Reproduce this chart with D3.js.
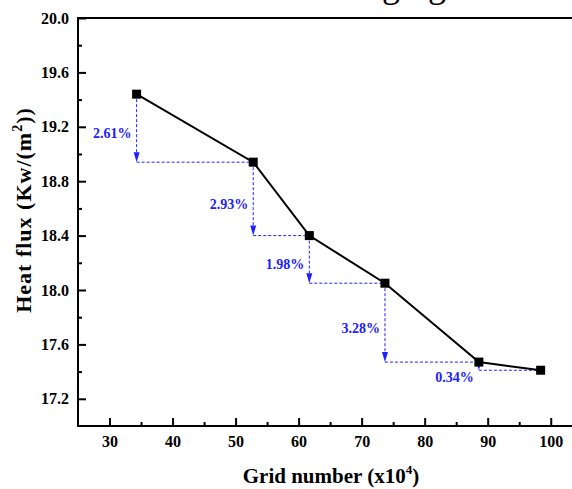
<!DOCTYPE html>
<html>
<head>
<meta charset="utf-8">
<script src="https://cdn.jsdelivr.net/npm/d3@7"></script>
<style>
  body { margin: 0; background: #fff; overflow: hidden; }
  svg { display: block; font-family: "Liberation Serif", "Times New Roman", serif; }
</style>
</head>
<body>
<svg id="chart" width="572" height="489"></svg>
<script>
/*
  heat flux vs grid number, grid independence plot
*/

// data
var gridNumber = [34.3, 52.8, 61.7, 73.7, 88.6, 98.4];
var heatFlux = [19.44, 18.94, 18.40, 18.05, 17.47, 17.41];
var changeLabels = ["2.61%", "2.93%", "1.98%", "3.28%", "0.34%"];
var xTicks = [30, 40, 50, 60, 70, 80, 90, 100];
var yTicks = [17.2, 17.6, 18.0, 18.4, 18.8, 19.2, 19.6, 20.0];

var svg = d3.select("#chart");
var plotLeft = 78, plotTop = 18, plotBottom = 426;

var x = d3.scaleLinear().domain([25, 105]).range([plotLeft, plotLeft + 80 * 6.303]);
var y = d3.scaleLinear().domain([17.0, 20.0]).range([plotBottom, plotTop]);
var plotRight = x(105);

var blue = "#2020ff";

// title, mostly cut off by the top of the picture
svg.append("text")
  .attr("x", 446).attr("y", -3)
  .attr("text-anchor", "end")
  .style("font-size", "36px")
  .text("Heat flux changing");

// minor ticks
var minorX = d3.range(35, 105, 10);
var minorY = d3.range(17.4, 20, 0.4);

svg.append("g")
  .attr("transform", "translate(0," + plotBottom + ")")
  .call(d3.axisBottom(x).tickValues(minorX).tickSize(-4).tickFormat(""))
  .call(function(g){ g.select(".domain").remove(); })
  .selectAll("line").attr("stroke-width", 2);

svg.append("g")
  .attr("transform", "translate(" + plotLeft + ",0)")
  .call(d3.axisLeft(y).tickValues(minorY).tickSize(-4).tickFormat(""))
  .call(function(g){ g.select(".domain").remove(); })
  .selectAll("line").attr("stroke-width", 2);

// major ticks + labels
var xAxis = svg.append("g")
  .attr("transform", "translate(0," + plotBottom + ")")
  .call(d3.axisBottom(x).tickValues(xTicks).tickSize(-8).tickPadding(10).tickFormat(d3.format("d")));
xAxis.select(".domain").remove();
xAxis.selectAll("line").attr("stroke-width", 2);
xAxis.selectAll("text")
  .attr("fill", "#000")
  .attr("font-family", "Liberation Serif")
  .attr("font-size", 16)
  .attr("font-weight", "bold");

var yAxis = svg.append("g")
  .attr("transform", "translate(" + plotLeft + ",0)")
  .call(d3.axisLeft(y).tickValues(yTicks).tickSize(-8).tickPadding(9).tickFormat(d3.format(".1f")));
yAxis.select(".domain").remove();
yAxis.selectAll("line").attr("stroke-width", 2);
yAxis.selectAll("text")
  .attr("fill", "#000")
  .attr("font-family", "Liberation Serif")
  .attr("font-size", 16)
  .attr("font-weight", "bold");

// frame
svg.append("rect")
  .attr("x", plotLeft).attr("y", plotTop)
  .attr("width", plotRight - plotLeft).attr("height", plotBottom - plotTop)
  .attr("fill", "none")
  .attr("stroke", "#000")
  .attr("stroke-width", 2);

// blue dashed drop arrows between neighbouring points
var pts = gridNumber.map(function(g, i){ return {x: g, y: heatFlux[i]}; });

for (var i = 0; i < pts.length - 1; i++) {
  var a = pts[i], b = pts[i + 1];
  var xa = x(a.x), ya = y(a.y), xb = x(b.x), yb = y(b.y);

  // horizontal line at the next point's level
  svg.append("line")
    .attr("x1", xa).attr("x2", xb)
    .attr("y1", yb).attr("y2", yb)
    .attr("stroke", blue).attr("stroke-width", 1)
    .attr("stroke-dasharray", "3,2");

  // vertical drop
  svg.append("line")
    .attr("x1", xa).attr("x2", xa)
    .attr("y1", ya + 5).attr("y2", yb - 6)
    .attr("stroke", blue).attr("stroke-width", 1)
    .attr("stroke-dasharray", "3,2");

  // arrow head
  svg.append("path")
    .attr("d", "M" + (xa - 3) + "," + (yb - 10) + "L" + (xa + 3) + "," + (yb - 10) + "L" + xa + "," + yb + "Z")
    .attr("fill", blue);

  // percentage label
  var last = (i == pts.length - 2);
  svg.append("text")
    .attr("x", xa - 5)
    .attr("y", last ? yb + 12 : (ya + yb) / 2 + 10)
    .attr("text-anchor", "end")
    .attr("fill", blue)
    .style("font-size", "14px")
    .style("font-weight", "bold")
    .text(changeLabels[i]);
}

// data line + square markers
var line = d3.line()
  .x(function(d){ return x(d.x); })
  .y(function(d){ return y(d.y); });

svg.append("path")
  .datum(pts)
  .attr("d", line)
  .attr("fill", "none")
  .attr("stroke", "#000")
  .attr("stroke-width", 2);

svg.selectAll(".pt")
  .data(pts)
  .enter().append("rect")
  .attr("class", "pt")
  .attr("x", function(d){ return x(d.x) - 4.5; })
  .attr("y", function(d){ return y(d.y) - 4.5; })
  .attr("width", 9).attr("height", 9)
  .attr("fill", "#000");

// axis titles
var xt = svg.append("text")
  .attr("x", 331).attr("y", 483)
  .attr("text-anchor", "middle")
  .style("font-size", "21px")
  .style("font-weight", "bold");
xt.append("tspan").text("Grid number (x10");
xt.append("tspan").attr("dy", -9).style("font-size", "13px").text("4");
xt.append("tspan").attr("dy", 9).text(")");

var yt = svg.append("text")
  .attr("transform", "translate(31,210) rotate(-90)")
  .attr("text-anchor", "middle")
  .style("font-size", "22px")
  .style("font-weight", "bold")
  .style("letter-spacing", "1px");
yt.append("tspan").text("Heat flux (Kw/(m");
yt.append("tspan").attr("dy", -9).style("font-size", "14px").text("2");
yt.append("tspan").attr("dy", 9).text("))");
</script>
</body>
</html>
